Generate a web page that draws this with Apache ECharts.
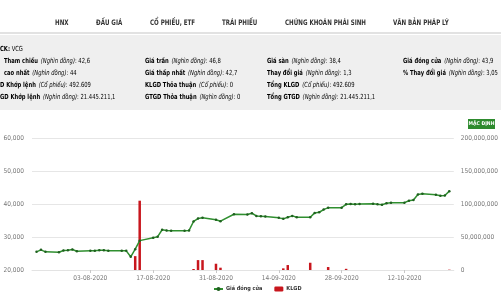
<!DOCTYPE html>
<html><head><meta charset="utf-8">
<script src="https://cdn.jsdelivr.net/npm/echarts@6/dist/echarts.min.js"></script>
<style>html,body{margin:0;padding:0;background:#fff;overflow:hidden}#c{width:501px;height:300px}</style>
</head><body><div id="c"></div>
<script>
const dates = [
 '2020-07-22','2020-07-23','2020-07-24','2020-07-27','2020-07-28','2020-07-29','2020-07-30','2020-07-31',
 '2020-08-03','2020-08-04','2020-08-05','2020-08-06','2020-08-07','2020-08-10','2020-08-11','2020-08-12',
 '2020-08-13','2020-08-14','2020-08-17','2020-08-18','2020-08-19','2020-08-20','2020-08-21','2020-08-24',
 '2020-08-25','2020-08-26','2020-08-27','2020-08-28','2020-08-31','2020-09-01','2020-09-04','2020-09-07',
 '2020-09-08','2020-09-09','2020-09-10','2020-09-11','2020-09-14','2020-09-15','2020-09-16','2020-09-17',
 '2020-09-18','2020-09-21','2020-09-22','2020-09-23','2020-09-24','2020-09-25','2020-09-28','2020-09-29',
 '2020-09-30','2020-10-01','2020-10-02','2020-10-05','2020-10-06','2020-10-07','2020-10-08','2020-10-09',
 '2020-10-12','2020-10-13','2020-10-14','2020-10-15','2020-10-16','2020-10-19','2020-10-20','2020-10-21',
 '2020-10-22'];
const closePrice = [
 25500,26100,25500,25400,25900,26000,26200,25700,
 25800,25800,26000,26000,25800,25800,25800,24000,
 26300,28900,29800,30100,32200,32000,31900,31900,
 32000,34700,35600,35800,35200,34800,36900,36800,
 37200,36400,36300,36200,35800,35500,36000,36400,
 36000,36000,37300,37500,38300,38900,38900,39900,
 40000,39900,40000,40100,39900,39800,40200,40400,
 40400,41000,41200,42900,43100,42800,42500,42600,
 43900];
const volume = [
 0,0,0,0,0,0,0,0,
 0,0,0,0,0,0,0,0,
 21000000,105000000,0,0,0,0,0,0,
 0,1500000,15000000,15000000,9500000,3500000,0,0,
 0,0,0,0,0,2500000,7500000,0,
 0,11000000,0,0,0,4500000,0,1800000,
 0,0,0,0,0,0,0,0,
 0,0,0,0,0,0,0,0,
 492609];
const tickDates = ['2020-08-03','2020-08-17','2020-08-31','2020-09-14','2020-09-28','2020-10-12'];
const tickLabels = ['03-08-2020','17-08-2020','31-08-2020','14-09-2020','28-09-2020','12-10-2020'];
const axisStart = '2020-07-21';
const axisEnd = '2020-10-23';
const priceName = 'Giá đóng cửa';
const volumeName = 'KLGD';

// x positions are day numbers counted from the first tick date
function ts(s){ const p = s.split('-'); return Date.UTC(+p[0], +p[1]-1, +p[2]); }
const base = ts(tickDates[0]);
function day(s){ return Math.round((ts(s) - base) / 86400000); }
const tickDays = tickDates.map(day);
function labelFor(v){
  const i = tickDays.indexOf(Math.round(v));
  return i >= 0 ? tickLabels[i] : '';
}

const FF = "'Liberation Sans Narrow','DejaVu Sans Condensed','Open Sans',sans-serif";
const SX = 0.83;
const rich = {
  b: {fontFamily: FF, fontWeight: 'bold', fontSize: 7, color: '#333'},
  i: {fontFamily: FF, fontStyle: 'italic', fontSize: 7, color: '#8a8a8a'},
  v: {fontFamily: FF, fontSize: 7, color: '#333'}
};
function cell(x, y, label, unit, val){
  return {type:'text', x:x, y:y, scaleX:SX, style:{text:'{b|'+label+'} {i|('+unit+')}{v|: '+val+'}', rich:rich, verticalAlign:'middle', align:'left'}};
}
function head(x, t){
  return {type:'text', x:x, y:23, scaleX:0.82, style:{text:t, fontFamily:FF, fontWeight:'bold', fontSize:7.5, fill:'#333', verticalAlign:'middle'}};
}
const ND = 'Nghìn đồng', CP = 'Cổ phiếu';
const graphic = [
  head(55,'HNX'), head(96,'ĐẤU GIÁ'), head(150,'CỔ PHIẾU, ETF'), head(222,'TRÁI PHIẾU'),
  head(285,'CHỨNG KHOÁN PHÁI SINH'), head(393,'VĂN BẢN PHÁP LÝ'),
  {type:'rect', shape:{x:0,y:32,width:501,height:2}, style:{fill:'#e2e2e2'}},
  {type:'rect', shape:{x:0,y:35,width:501,height:75}, style:{fill:'#efefef'}},
  {type:'text', x:0, y:49, scaleX:SX, style:{text:'{b|CK:}{v| VCG}', rich:rich, verticalAlign:'middle'}},
  cell(4,61,'Tham chiếu',ND,'42,6'), cell(145,61,'Giá trần',ND,'46,8'), cell(267,61,'Giá sàn',ND,'38,4'), cell(403,61,'Giá đóng cửa',ND,'43,9'),
  cell(4,73,'cao nhất',ND,'44'), cell(145,73,'Giá thấp nhất',ND,'42,7'), cell(267,73,'Thay đổi giá',ND,'1,3'), cell(403,73,'% Thay đổi giá',ND,'3,05'),
  cell(0,85,'D Khớp lệnh',CP,'492.609'), cell(145,85,'KLGD Thỏa thuận',CP,'0'), cell(267,85,'Tổng KLGD',CP,'492.609'),
  cell(0,97,'GD Khớp lệnh',ND,'21.445.211,1'), cell(145,97,'GTGD Thỏa thuận',ND,'0'), cell(267,97,'Tổng GTGD',ND,'21.445.211,1'),
  {type:'rect', shape:{x:468,y:119,width:27,height:10}, style:{fill:'#2e8b2e'}},
  {type:'text', x:481.5, y:124, style:{text:'MẶC ĐỊNH', fontFamily:FF, fontWeight:'bold', fontSize:5, fill:'#fff', align:'center', verticalAlign:'middle'}}
];

const chart = echarts.init(document.getElementById('c'), null, {renderer:'canvas'});
chart.setOption({
  animation: false,
  textStyle: {fontFamily: FF},
  graphic: graphic,
  grid: {left:32, right:43, top:138, bottom:30},
  legend: {
    data: [priceName, volumeName], top: 286, left: 213, itemGap: 12, itemWidth: 9, itemHeight: 5, padding: 0,
    textStyle: {fontSize: 5.5, fontWeight: 'bold', color: '#333', fontFamily: FF, padding: [0,0,0,-2]}
  },
  xAxis: {
    type: 'value', min: day(axisStart), max: day(axisEnd),
    axisLine: {show: true, lineStyle: {color: '#e3e3e3'}},
    splitLine: {show: false},
    axisTick: {show: true, customValues: tickDays, length: 3, lineStyle: {color: '#c8c8c8'}},
    axisLabel: {customValues: tickDays, formatter: v => labelFor(v), fontSize: 6.5, color: '#777', margin: 5, fontFamily: FF}
  },
  yAxis: [
    {type:'value', min:20000, max:60000, interval:10000, position:'left',
     axisLine:{show:false}, axisTick:{show:false},
     splitLine:{lineStyle:{color:'#e6e6e6'}},
     axisLabel:{fontSize:6.5, color:'#777', margin:8, fontFamily:FF}},
    {type:'value', min:0, max:200000000, interval:50000000, position:'right',
     axisLine:{show:false}, axisTick:{show:false}, splitLine:{show:false},
     axisLabel:{fontSize:6.5, color:'#777', margin:7, align:'left', fontFamily:FF}}
  ],
  series: [
    {name: volumeName, type:'bar', yAxisIndex:1, barWidth:2.5,
     itemStyle:{color:'#c8161d'},
     data: dates.map((d,i)=>[day(d), volume[i]])},
    {name: priceName, type:'line', yAxisIndex:0, symbol:'circle', symbolSize:2.5, showSymbol:true,
     lineStyle:{color:'#2f8f2f', width:1.5}, itemStyle:{color:'#1f5f1f'},
     data: dates.map((d,i)=>[day(d), closePrice[i]])}
  ]
});
</script></body></html>
